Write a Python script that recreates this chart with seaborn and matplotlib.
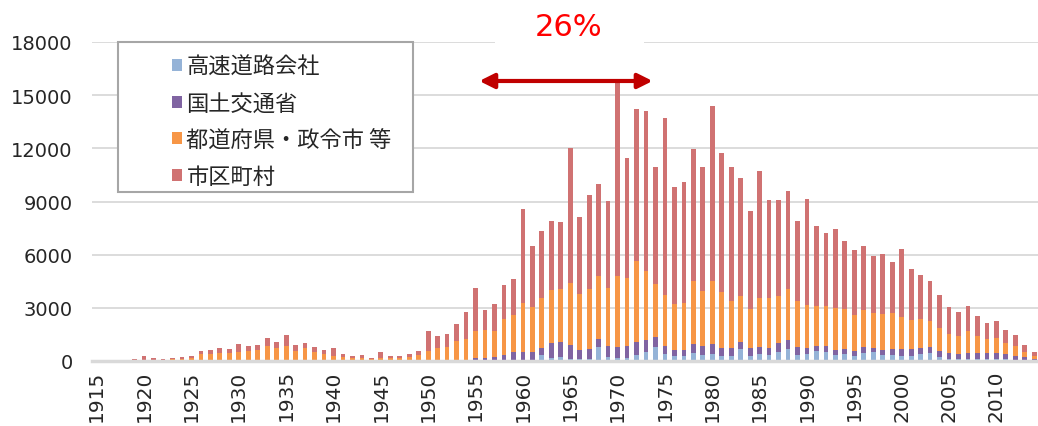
import numpy as np
import pandas as pd
import matplotlib
matplotlib.use('Agg')
import matplotlib.pyplot as plt
from matplotlib.patches import Patch, Rectangle
import seaborn as sns

years = list(range(1915, 2015))

# 高速道路会社
expressway = [0, 0, 0, 0, 0, 0, 0, 0, 0, 0,
              0, 0, 0, 0, 0, 0, 0, 0, 0, 0,
              0, 0, 0, 0, 0, 0, 0, 0, 0, 0,
              0, 0, 0, 0, 0, 0, 0, 0, 0, 0,
              0, 0, 0, 0, 30, 30, 30, 320, 190, 225,
              100, 100, 100, 775, 225, 150, 190, 340, 510, 775,
              375, 280, 280, 435, 340, 395, 280, 280, 660, 280,
              395, 340, 530, 680, 340, 395, 550, 510, 340, 375,
              300, 450, 490, 360, 340, 265, 265, 395, 450, 225,
              110, 110, 110, 110, 110, 110, 95, 75, 55, 0]
# 国土交通省
mlit = [0, 0, 0, 0, 0, 0, 0, 0, 0, 0,
        0, 0, 0, 0, 0, 0, 0, 0, 0, 0,
        0, 0, 0, 0, 0, 0, 0, 0, 0, 0,
        0, 0, 0, 0, 0, 20, 30, 40, 60, 80,
        150, 150, 225, 340, 460, 460, 480, 415, 850, 835,
        805, 500, 580, 455, 625, 640, 660, 720, 680, 565,
        475, 360, 360, 525, 510, 565, 455, 455, 415, 435,
        415, 415, 510, 510, 470, 340, 320, 340, 280, 305,
        265, 340, 265, 260, 340, 415, 415, 340, 340, 340,
        340, 285, 340, 325, 340, 340, 300, 225, 170, 110]
# 都道府県・政令市等
prefecture = [0, 0, 0, 0, 40, 60, 50, 60, 100, 130,
              180, 410, 390, 450, 450, 500, 560, 600, 840, 750,
              825, 540, 730, 525, 410, 300, 225, 170, 170, 110,
              190, 150, 150, 205, 320, 520, 720, 750, 1060, 1170,
              1540, 1590, 1455, 2040, 2095, 2755, 2565, 2815, 2960, 2980,
              3495, 3170, 3360, 3580, 3245, 3985, 3830, 4580, 3905, 2980,
              2870, 2570, 2605, 3570, 3110, 3550, 3155, 2645, 2585, 2230,
              2740, 2795, 2620, 2870, 2550, 2435, 2225, 2245, 2360, 2245,
              2020, 2080, 1945, 2020, 2020, 1790, 1660, 1625, 1455, 1285,
              1060, 1000, 1230, 1000, 775, 835, 605, 550, 265, 170]
# 市区町村
municipal = [0, 0, 0, 20, 60, 240, 120, 70, 90, 95,
             120, 170, 230, 260, 240, 440, 265, 300, 450, 340,
             655, 360, 300, 245, 210, 410, 150, 90, 170, 80,
             310, 150, 110, 205, 220, 1150, 640, 730, 940, 1530,
             2440, 1110, 1530, 1900, 2055, 5325, 3395, 3810, 3900, 3810,
             7600, 4360, 5340, 5150, 4945, 11025, 6770, 8570, 8985, 6625,
             10000, 6600, 6855, 7430, 6970, 9870, 7850, 7550, 6680, 5505,
             7170, 5550, 5440, 5530, 4530, 5960, 4505, 4155, 4455, 3830,
             3700, 3620, 3245, 3380, 2905, 3870, 2830, 2470, 2285, 1885,
             1545, 1360, 1435, 1095, 905, 960, 755, 600, 395, 220]

labels = ['高速道路会社', '国土交通省', '都道府県・政令市 等', '市区町村']
colors = ['#95B3D7', '#8064A2', '#F79646', '#D07272']

df = pd.DataFrame({
    'year': years * 4,
    'value': expressway + mlit + prefecture + municipal,
    'agency': np.repeat(labels, len(years)),
})

sns.set_theme(style='white')
plt.rcParams['font.family'] = ['DejaVu Sans', 'Noto Sans CJK JP']

fig = plt.figure(figsize=(10.38, 4.27), dpi=100)
ax = fig.add_axes([92 / 1038, 65 / 427, 947 / 1038, 319 / 427])

# last hue level ends up at the bottom of the stack
sns.histplot(data=df, x='year', weights='value', hue='agency',
             hue_order=labels[::-1], palette=colors[::-1],
             multiple='stack', discrete=True, shrink=0.5,
             linewidth=0, alpha=1, legend=False, ax=ax)

ax.set_xlim(1914.5, 2014.5)
ax.set_ylim(0, 18000)
ax.set_yticks(range(0, 18001, 3000))
ax.set_xticks(range(1915, 2011, 5))
ax.tick_params(axis='x', rotation=90, labelsize=14.5, length=0, pad=6)
ax.tick_params(axis='y', labelsize=14, length=0, pad=14)
ax.set_xlabel('')
ax.set_ylabel('')
ax.yaxis.grid(True, color='#D9D9D9', lw=1.3)
ax.set_axisbelow(True)
for s in ['top', 'right', 'left']:
    ax.spines[s].set_visible(False)
ax.spines['bottom'].set_color('#D9D9D9')
ax.spines['bottom'].set_linewidth(2.5)

# legend box
ax.add_patch(Rectangle((0.0275, 0.53), 0.3115, 0.47, transform=ax.transAxes,
                       facecolor='white', edgecolor='#A6A6A6', lw=1.5,
                       clip_on=False, zorder=4))
handles = [Patch(facecolor=c, edgecolor='none') for c in colors]
leg = ax.legend(handles, labels, loc='upper left', bbox_to_anchor=(0.0845, 0.96),
                frameon=False, borderpad=0, borderaxespad=0,
                handlelength=0.45, handleheight=0.45, handletextpad=0.2,
                labelspacing=0.62,
                prop={'family': ['Noto Sans CJK JP', 'DejaVu Sans'], 'size': 16})
leg.set_zorder(5)

# 26% label with white box over the top grid line
ax.add_patch(Rectangle((1957.1, 17300), 15.7, 2500, facecolor='white',
                       edgecolor='none', clip_on=False, zorder=2))
ax.text(1964.8, 18850, '26%', color='#FF0000', fontsize=22, ha='center',
        va='center', zorder=3, clip_on=False)
ax.annotate('', xy=(1955.4, 15800), xytext=(1973.7, 15800),
            arrowprops=dict(arrowstyle='<|-|>', color='#C00000', lw=3,
                            mutation_scale=22, shrinkA=0, shrinkB=0),
            zorder=6)

fig.savefig('out.png', dpi=100)
